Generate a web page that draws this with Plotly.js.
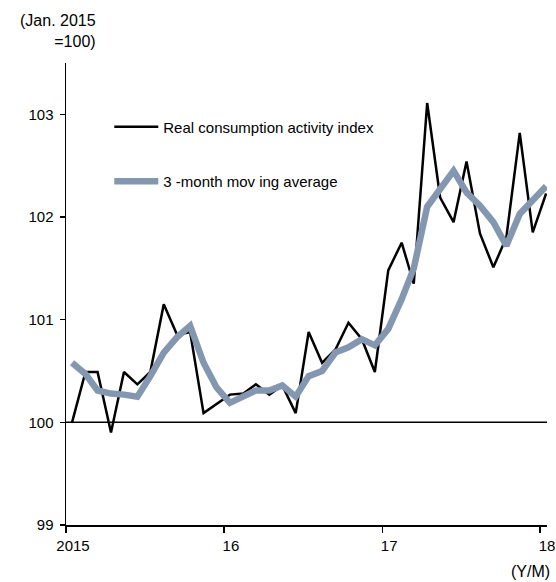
<!DOCTYPE html>
<html><head><meta charset="utf-8">
<script src="https://cdn.plot.ly/plotly-3.0.1.min.js"></script>
<style>body{margin:0;background:#fff}#chart{width:556px;height:582px}</style>
</head><body><div id="chart"></div>
<script>
// Months: Jan 2015 .. Jan 2018 (plotted mid-month)
const startYear = 2015;
const nMonths = 37;
const months = [];
for (let i = 0; i < nMonths; i++) {
  const y = startYear + Math.floor(i / 12), m = i % 12 + 1;
  months.push(y + '-' + String(m).padStart(2, '0') + '-15');
}

const seriesNames = ['Real consumption activity index', '3 -month mov ing average'];

const indexValues = [100.00, 100.49, 100.49, 99.90, 100.49, 100.37, 100.49, 101.15, 100.85, 100.88, 100.09, 100.18,
                     100.27, 100.28, 100.37, 100.27, 100.36, 100.09, 100.88, 100.58, 100.71, 100.97, 100.81, 100.49,
                     101.48, 101.75, 101.35, 103.11, 102.19, 101.95, 102.54, 101.84, 101.51, 101.80, 102.82, 101.85,
                     102.23];

const movingAvg = [100.58, 100.47, 100.31, 100.28, 100.27, 100.25, 100.45, 100.68, 100.83, 100.94, 100.58, 100.34,
                   100.19, 100.26, 100.31, 100.31, 100.36, 100.25, 100.45, 100.50, 100.68, 100.73, 100.81, 100.75,
                   100.91, 101.20, 101.50, 102.10, 102.27, 102.45, 102.24, 102.11, 101.95, 101.72, 102.03, 102.16,
                   102.30];

const xTickDates = ['2015-01-01', '2016-01-01', '2017-01-01', '2018-01-01'];
const xTickLabels = ['2015', '16', '17', '18'];
const yTicks = [99, 100, 101, 102, 103];
const baseLine = 100;

const FONT = 'Liberation Sans, Arial, sans-serif';

const traces = [
  {x: months, y: indexValues, name: seriesNames[0], type: 'scatter', mode: 'lines',
   line: {color: '#000000', width: 2.5}, legendgroup: 'a'},
  {x: months, y: movingAvg, name: seriesNames[1], type: 'scatter', mode: 'lines',
   line: {color: '#8497b0', width: 6.5}, legendgroup: 'b'}
];

const layout = {
  width: 556, height: 582,
  margin: {l: 66, r: 9, t: 63, b: 57},
  paper_bgcolor: '#ffffff', plot_bgcolor: '#ffffff',
  font: {family: FONT, size: 15, color: '#000000'},
  showlegend: true,
  legend: {x: 0.09, y: 0.897, xanchor: 'left', yanchor: 'top', bgcolor: 'rgba(0,0,0,0)',
           traceorder: 'grouped', tracegroupgap: 32, itemwidth: 44,
           font: {family: FONT, size: 15, color: '#000000'}},
  xaxis: {type: 'date', range: ['2015-01-01', '2018-01-17'],
          tickmode: 'array', tickvals: xTickDates, ticktext: xTickLabels,
          ticks: 'outside', ticklen: 6, tickwidth: 1.3, tickcolor: '#000',
          ticklabelshift: 7, ticklabeloverflow: 'allow',
          showline: true, linecolor: '#000', linewidth: 1.5, showgrid: false, zeroline: false,
          tickfont: {family: FONT, size: 15}},
  yaxis: {range: [99, 103.5], tickmode: 'array', tickvals: yTicks,
          ticks: 'outside', ticklen: 5, tickwidth: 1.3, tickcolor: '#000',
          ticklabelstandoff: 3,
          showline: true, linecolor: '#000', linewidth: 1.5, showgrid: false, zeroline: false,
          tickfont: {family: FONT, size: 15}},
  shapes: [{type: 'line', xref: 'paper', x0: 0, x1: 1, yref: 'y', y0: baseLine, y1: baseLine,
            line: {color: '#000', width: 1.5}, layer: 'below'}],
  annotations: [
    {text: '(Jan. 2015<br>=100)', xref: 'paper', yref: 'paper', x: 0.067, y: 1.114,
     xanchor: 'right', yanchor: 'top', align: 'right', showarrow: false,
     font: {family: FONT, size: 16}},
    {text: '(Y/M)', xref: 'paper', yref: 'paper', x: 1.01, y: -0.078,
     xanchor: 'right', yanchor: 'top', showarrow: false, font: {family: FONT, size: 16}}
  ]
};

Plotly.newPlot('chart', traces, layout, {displayModeBar: false, staticPlot: true});
</script>
</body></html>
